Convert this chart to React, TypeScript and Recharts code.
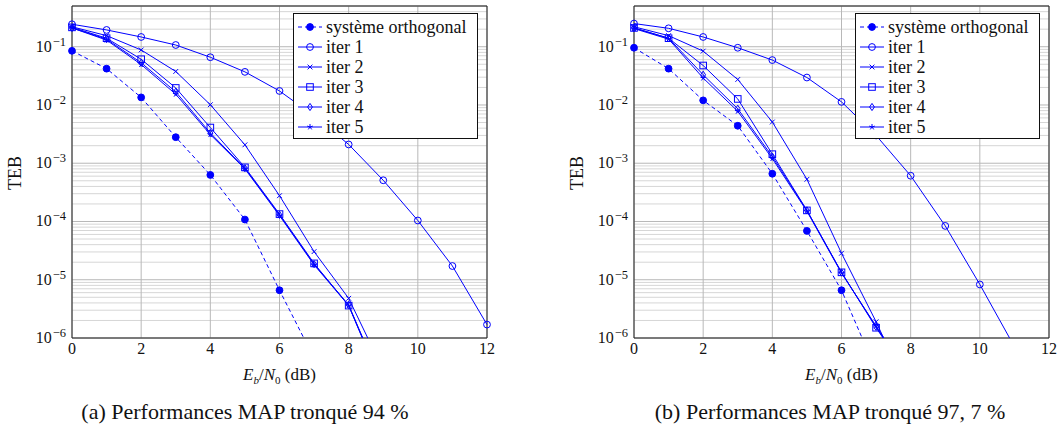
import { CartesianGrid, Line, LineChart, ReferenceArea, XAxis, YAxis } from "recharts";

const BLUE = "#0000ff";
const FONT = "'Liberation Serif', serif";

const snr = [0, 1, 2, 3, 4, 5, 6, 7, 8, 9, 10, 11, 12];
const xTicks = [0, 2, 4, 6, 8, 10, 12];
const decades = [1e-6, 1e-5, 1e-4, 1e-3, 1e-2, 1e-1];
const minorSteps = [2, 3, 4, 5, 6, 7, 8, 9];
const minorTicks = decades.flatMap((d) => minorSteps.map((m) => m * d)).filter((v) => v <= 0.5);
const yDomain: [number, number] = [1e-6, 0.5];

// (a) MAP tronqué 94 %
const orthA = [0.085, 0.042, 0.0135, 0.0028, 6.3e-4, 1.08e-4, 6.6e-6, 4.5e-7];
const iter1A = [0.243, 0.194, 0.147, 0.107, 0.066, 0.037, 0.0174, 0.0065, 0.0021, 5.1e-4, 1.04e-4, 1.72e-5, 1.7e-6];
const iter2A = [0.22, 0.155, 0.088, 0.0376, 0.0101, 0.00207, 2.77e-4, 3.04e-5, 4.8e-6, 2.8e-7];
const iter3A = [0.215, 0.14, 0.061, 0.0196, 0.0041, 8.5e-4, 1.34e-4, 1.91e-5, 3.6e-6, 1.5e-7];
const iter4A = [0.21, 0.135, 0.053, 0.0168, 0.0033, 8.2e-4, 1.3e-4, 1.85e-5, 3.7e-6, 1.5e-7];
const iter5A = [0.21, 0.13, 0.0495, 0.0153, 0.0031, 8.0e-4, 1.26e-4, 1.8e-5, 3.6e-6, 1.4e-7];

// (b) MAP tronqué 97,7 %
const orthB = [0.096, 0.042, 0.012, 0.0044, 6.6e-4, 6.9e-5, 6.6e-6, 2.8e-7];
const iter1B = [0.25, 0.207, 0.147, 0.096, 0.059, 0.0296, 0.0113, 0.003, 6.1e-4, 8.4e-5, 8.3e-6, 7.1e-7];
const iter2B = [0.22, 0.155, 0.084, 0.0274, 0.0051, 5.3e-4, 2.85e-5, 1.9e-6, 1e-7];
const iter3B = [0.21, 0.14, 0.0476, 0.0127, 0.00143, 1.55e-4, 1.34e-5, 1.5e-6, 2e-7];
const iter4B = [0.21, 0.14, 0.033, 0.0086, 0.0013, 1.55e-4, 1.33e-5, 1.55e-6, 2e-7];
const iter5B = [0.205, 0.135, 0.029, 0.0078, 0.0012, 1.5e-4, 1.3e-5, 1.6e-6, 2e-7];

type MarkKind = "fcircle" | "ocircle" | "cross" | "square" | "diamond" | "star";
type Row = Record<string, number | null>;

const seriesMeta: { key: string; name: string; mark: MarkKind; dashed?: boolean }[] = [
  { key: "orth", name: "système orthogonal", mark: "fcircle", dashed: true },
  { key: "iter1", name: "iter 1", mark: "ocircle" },
  { key: "iter2", name: "iter 2", mark: "cross" },
  { key: "iter3", name: "iter 3", mark: "square" },
  { key: "iter4", name: "iter 4", mark: "diamond" },
  { key: "iter5", name: "iter 5", mark: "star" },
];

function buildRows(series: Record<string, number[]>) {
  return snr.map((x, i) => {
    const row: Row = { snr: x };
    for (const k of Object.keys(series)) row[k] = series[k][i] ?? null;
    return row;
  });
}

const rowsA = buildRows({ orth: orthA, iter1: iter1A, iter2: iter2A, iter3: iter3A, iter4: iter4A, iter5: iter5A });
const rowsB = buildRows({ orth: orthB, iter1: iter1B, iter2: iter2B, iter3: iter3B, iter4: iter4B, iter5: iter5B });

function Mark({ kind, x, y }: { kind: MarkKind; x: number; y: number }) {
  const s = { stroke: BLUE, strokeWidth: 1, fill: "none" };
  switch (kind) {
    case "fcircle": return <circle cx={x} cy={y} r={3.4} fill={BLUE} stroke={BLUE} strokeWidth={1}/>;
    case "ocircle": return <circle cx={x} cy={y} r={3.4} {...s}/>;
    case "cross": return <path d={`M${x - 2.4},${y - 2.4}L${x + 2.4},${y + 2.4}M${x - 2.4},${y + 2.4}L${x + 2.4},${y - 2.4}`} {...s}/>;
    case "square": return <rect x={x - 3.3} y={y - 3.3} width={6.6} height={6.6} {...s}/>;
    case "diamond": return <path d={`M${x},${y - 3.6}L${x + 2.4},${y}L${x},${y + 3.6}L${x - 2.4},${y}Z`} {...s}/>;
    case "star": {
      const arms = [90, 162, 234, 306, 18].map((a) => {
        const r = (a * Math.PI) / 180;
        return `M${x},${y}L${x + 3 * Math.cos(r)},${y - 3 * Math.sin(r)}`;
      });
      return <path d={arms.join("")} {...s}/>;
    }
  }
}

function dotFor(kind: MarkKind) {
  return (p: any) => {
    const key = `${kind}-${p.index}`;
    if (p.cx == null || p.cy == null || Number.isNaN(p.cy)) return <g key={key}/>;
    return <g key={key}><Mark kind={kind} x={p.cx} y={p.cy}/></g>;
  };
}

function YTick({ x, y, payload }: any) {
  const exp = Math.round(Math.log10(payload.value));
  return <text x={x} y={y} dy={5} textAnchor="end" fontFamily={FONT} fontSize={16} fill="#111">
    10<tspan dx={1} dy={-6} fontSize={12.5}>{`−${-exp}`}</tspan>
  </text>;
}

function XTick({ x, y, payload }: any) {
  return <text x={x} y={y} dy={12} textAnchor="middle" fontFamily={FONT} fontSize={16} fill="#111">{payload.value}</text>;
}

function LegendBox({ left, top }: { left: number; top: number }) {
  return <div style={{ position: "absolute", left, top, width: 185, height: 126, border: "1px solid #111", background: "#fff", boxSizing: "border-box", paddingTop: 3 }}>
    {seriesMeta.map((s) => <div key={s.key} style={{ display: "flex", alignItems: "center", height: 20 }}>
      <svg width={32} height={20} style={{ flex: "none" }}>
        <line x1={4} y1={10} x2={28} y2={10} stroke={BLUE} strokeWidth={1} strokeDasharray={s.dashed ? "4 3" : undefined}/>
        <Mark kind={s.mark} x={16} y={10}/>
      </svg>
      <span style={{ fontFamily: FONT, fontSize: 18, lineHeight: "20px", color: "#111", whiteSpace: "nowrap" }}>{s.name}</span>
    </div>)}
  </div>;
}

const PLOT_W = 415;
const PLOT_H = 332;
const PLOT_TOP = 6;
const frameTick = { stroke: "#333", strokeWidth: 1 };

function Panel({ rows, chartLeft, axisWidth, caption, captionCenter }: {
  rows: Row[]; chartLeft: number; axisWidth: number; caption: string; captionCenter: number;
}) {
  const plotLeft = chartLeft + axisWidth;
  return <>
    <div style={{ position: "absolute", left: chartLeft, top: 0 }}>
      <LineChart width={axisWidth + PLOT_W + 12} height={PLOT_TOP + PLOT_H + 22} data={rows} margin={{ top: PLOT_TOP, right: 12, left: 0, bottom: 0 }}>
        <XAxis dataKey="snr" type="number" domain={[0, 12]} ticks={xTicks} interval={0} height={22} tickLine={false} axisLine={false} tickSize={0} tickMargin={4} tick={<XTick/>}/>
        <XAxis xAxisId="tickB" dataKey="snr" type="number" domain={[0, 12]} ticks={xTicks} interval={0} mirror orientation="bottom" tick={false} axisLine={false} tickSize={4} tickLine={frameTick}/>
        <XAxis xAxisId="tickT" dataKey="snr" type="number" domain={[0, 12]} ticks={xTicks} interval={0} mirror orientation="top" tick={false} axisLine={false} tickSize={4} tickLine={frameTick}/>
        <YAxis type="number" scale="log" domain={yDomain} allowDataOverflow ticks={decades} interval={0} width={axisWidth} tickLine={false} axisLine={false} tickSize={0} tickMargin={6} tick={<YTick/>}/>
        <YAxis yAxisId="minor" type="number" scale="log" domain={yDomain} allowDataOverflow ticks={minorTicks} interval={0} hide/>
        <YAxis yAxisId="tickL" type="number" scale="log" domain={yDomain} allowDataOverflow ticks={decades} interval={0} mirror orientation="left" tick={false} axisLine={false} tickSize={4} tickLine={frameTick}/>
        <YAxis yAxisId="tickR" type="number" scale="log" domain={yDomain} allowDataOverflow ticks={decades} interval={0} mirror orientation="right" tick={false} axisLine={false} tickSize={4} tickLine={frameTick}/>
        <YAxis yAxisId="minorL" type="number" scale="log" domain={yDomain} allowDataOverflow ticks={minorTicks} interval={0} mirror orientation="left" tick={false} axisLine={false} tickSize={2} tickLine={frameTick}/>
        <YAxis yAxisId="minorR" type="number" scale="log" domain={yDomain} allowDataOverflow ticks={minorTicks} interval={0} mirror orientation="right" tick={false} axisLine={false} tickSize={2} tickLine={frameTick}/>
        <CartesianGrid yAxisId="minor" vertical={false} stroke="#d6d6d6" strokeWidth={1}/>
        <CartesianGrid stroke="#b8b8b8" strokeWidth={1}/>
        <ReferenceArea x1={0} x2={12} y1={yDomain[0]} y2={yDomain[1]} fill="none" stroke="#222" strokeWidth={1}/>
        {seriesMeta.map((s) => <Line key={s.key} type="linear" dataKey={s.key} stroke={BLUE} strokeWidth={1}
          strokeDasharray={s.dashed ? "4 3" : undefined} dot={dotFor(s.mark)} activeDot={false} isAnimationActive={false}/>)}
      </LineChart>
    </div>
    <LegendBox left={plotLeft + 221} top={13}/>
    <div style={{ position: "absolute", left: plotLeft - 57, top: 173, transform: "translate(-50%, -50%) rotate(-90deg)", fontFamily: FONT, fontSize: 18, color: "#111", whiteSpace: "nowrap" }}>TEB</div>
    <div style={{ position: "absolute", left: plotLeft + PLOT_W / 2, top: 366, transform: "translateX(-50%)", fontFamily: FONT, fontSize: 17, lineHeight: 1, color: "#111", whiteSpace: "nowrap" }}>
      <i>E</i><sub style={{ fontSize: 11 }}><i>b</i></sub>/<i>N</i><sub style={{ fontSize: 11 }}>0</sub> (dB)
    </div>
    <div style={{ position: "absolute", left: captionCenter, top: 401, transform: "translateX(-50%)", fontFamily: FONT, fontSize: 22, lineHeight: 1, color: "#111", whiteSpace: "nowrap" }}>{caption}</div>
  </>;
}

export default function App() {
  return <div style={{ position: "absolute", left: 0, top: 0, width: 1062, height: 443, background: "#fff", overflow: "hidden" }}>
    <Panel rows={rowsA} chartLeft={0} axisWidth={72} caption="(a) Performances MAP tronqué 94 %" captionCenter={245}/>
    <Panel rows={rowsB} chartLeft={560} axisWidth={74} caption="(b) Performances MAP tronqué 97, 7 %" captionCenter={830}/>
  </div>;
}
